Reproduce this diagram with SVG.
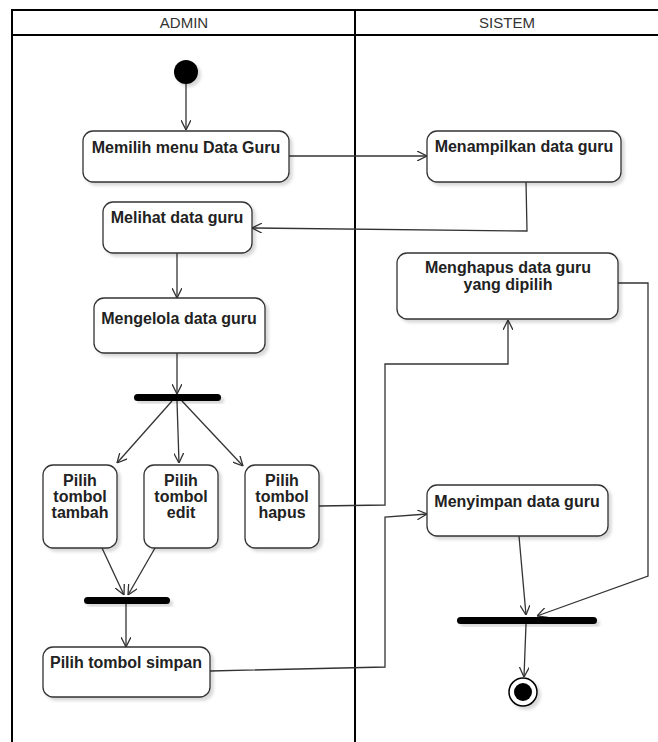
<svg xmlns="http://www.w3.org/2000/svg" width="658" height="742" viewBox="0 0 658 742">
<style>
.lane{fill:none;stroke:#000;stroke-width:2}
.hdr{font-family:"Liberation Sans",Arial,sans-serif;font-size:15px;fill:#333;text-anchor:middle}
.box{fill:#fff;stroke:#333;stroke-width:1.3;filter:url(#sh)}
.lbl{font-family:"Liberation Sans",Arial,sans-serif;font-size:16px;font-weight:bold;fill:#222;text-anchor:middle}
.bar{fill:#000;filter:url(#sh)}
.edge{fill:none;stroke:#333;stroke-width:1.3;marker-end:url(#arr)}
</style>
<defs>
<filter id="sh" x="-20%" y="-20%" width="150%" height="160%">
<feDropShadow dx="3" dy="3" stdDeviation="1.5" flood-color="#000" flood-opacity="0.15"/>
</filter>
<marker id="arr" viewBox="0 0 10 10" refX="10" refY="5" markerWidth="10" markerHeight="10" markerUnits="userSpaceOnUse" orient="auto">
<path d="M0,0 L10,5 L0,10" fill="none" stroke="#333" stroke-width="1.3"/>
</marker>
</defs>
<g id="lanes">
<path class="lane" d="M12,742 V10 H660 M12,35 H660 M355,10 V742"/>
<text class="hdr" x="184" y="28">ADMIN</text>
<text class="hdr" x="507" y="28">SISTEM</text>
</g>
<g id="connectors">
<path class="edge" d="M186,84 V130"/>
<path class="edge" d="M289,156 H427"/>
<path class="edge" d="M526,181 L527,231 L252,228"/>
<path class="edge" d="M177,253 V298"/>
<path class="edge" d="M177,353 V394"/>
<path class="edge" d="M172,401 L117,463"/>
<path class="edge" d="M177,401 L179,463"/>
<path class="edge" d="M182,401 L243,466"/>
<path class="edge" d="M319,506 L385,505 V364 H508 V320"/>
<path class="edge" d="M102,548 L124,595"/>
<path class="edge" d="M155,548 L128,595"/>
<path class="edge" d="M126,604 V647"/>
<path class="edge" d="M210,671 L385,667 V517 L427,514"/>
<path class="edge" d="M618,283 H648 V576 L537,616"/>
<path class="edge" d="M519,536 L526,615"/>
<path class="edge" d="M526,624 L524,677"/>
</g>
<g id="start"><circle cx="186" cy="72" r="12" fill="#000" filter="url(#sh)"/></g>
<g id="n1"><rect class="box" x="83" y="131" width="206" height="51" rx="10"/><text class="lbl" x="186" y="153">Memilih menu Data Guru</text></g>
<g id="n2"><rect class="box" x="427" y="131" width="194" height="51" rx="10"/><text class="lbl" x="524" y="152">Menampilkan data guru</text></g>
<g id="n3"><rect class="box" x="103" y="202" width="149" height="51" rx="10"/><text class="lbl" x="177" y="223">Melihat data guru</text></g>
<g id="n4"><rect class="box" x="397" y="253" width="221" height="66" rx="10"/><text class="lbl" x="508" y="273">Menghapus data guru</text><text class="lbl" x="508" y="290">yang dipilih</text></g>
<g id="n5"><rect class="box" x="94" y="298" width="171" height="55" rx="10"/><text class="lbl" x="179" y="324">Mengelola data guru</text></g>
<g id="fork"><rect class="bar" x="134" y="394" width="87" height="7" rx="3.5"/></g>
<g id="n6"><rect class="box" x="43" y="465" width="74" height="83" rx="10"/><text class="lbl" x="80" y="486">Pilih</text><text class="lbl" x="80" y="502">tombol</text><text class="lbl" x="80" y="518">tambah</text></g>
<g id="n7"><rect class="box" x="144" y="465" width="74" height="83" rx="10"/><text class="lbl" x="181" y="486">Pilih</text><text class="lbl" x="181" y="502">tombol</text><text class="lbl" x="181" y="518">edit</text></g>
<g id="n8"><rect class="box" x="245" y="465" width="74" height="83" rx="10"/><text class="lbl" x="282" y="486">Pilih</text><text class="lbl" x="282" y="502">tombol</text><text class="lbl" x="282" y="518">hapus</text></g>
<g id="n9"><rect class="box" x="427" y="485" width="181" height="51" rx="10"/><text class="lbl" x="517" y="507">Menyimpan data guru</text></g>
<g id="join1"><rect class="bar" x="84" y="597" width="86" height="7" rx="3.5"/></g>
<g id="join2"><rect class="bar" x="457" y="617" width="140" height="7" rx="3.5"/></g>
<g id="n10"><rect class="box" x="43" y="647" width="167" height="50" rx="10"/><text class="lbl" x="126" y="668">Pilih tombol simpan</text></g>
<g id="end"><circle cx="523" cy="692" r="14" fill="#fff" stroke="#000" stroke-width="1.5" filter="url(#sh)"/><circle cx="523" cy="692" r="9" fill="#000"/></g>
</svg>
